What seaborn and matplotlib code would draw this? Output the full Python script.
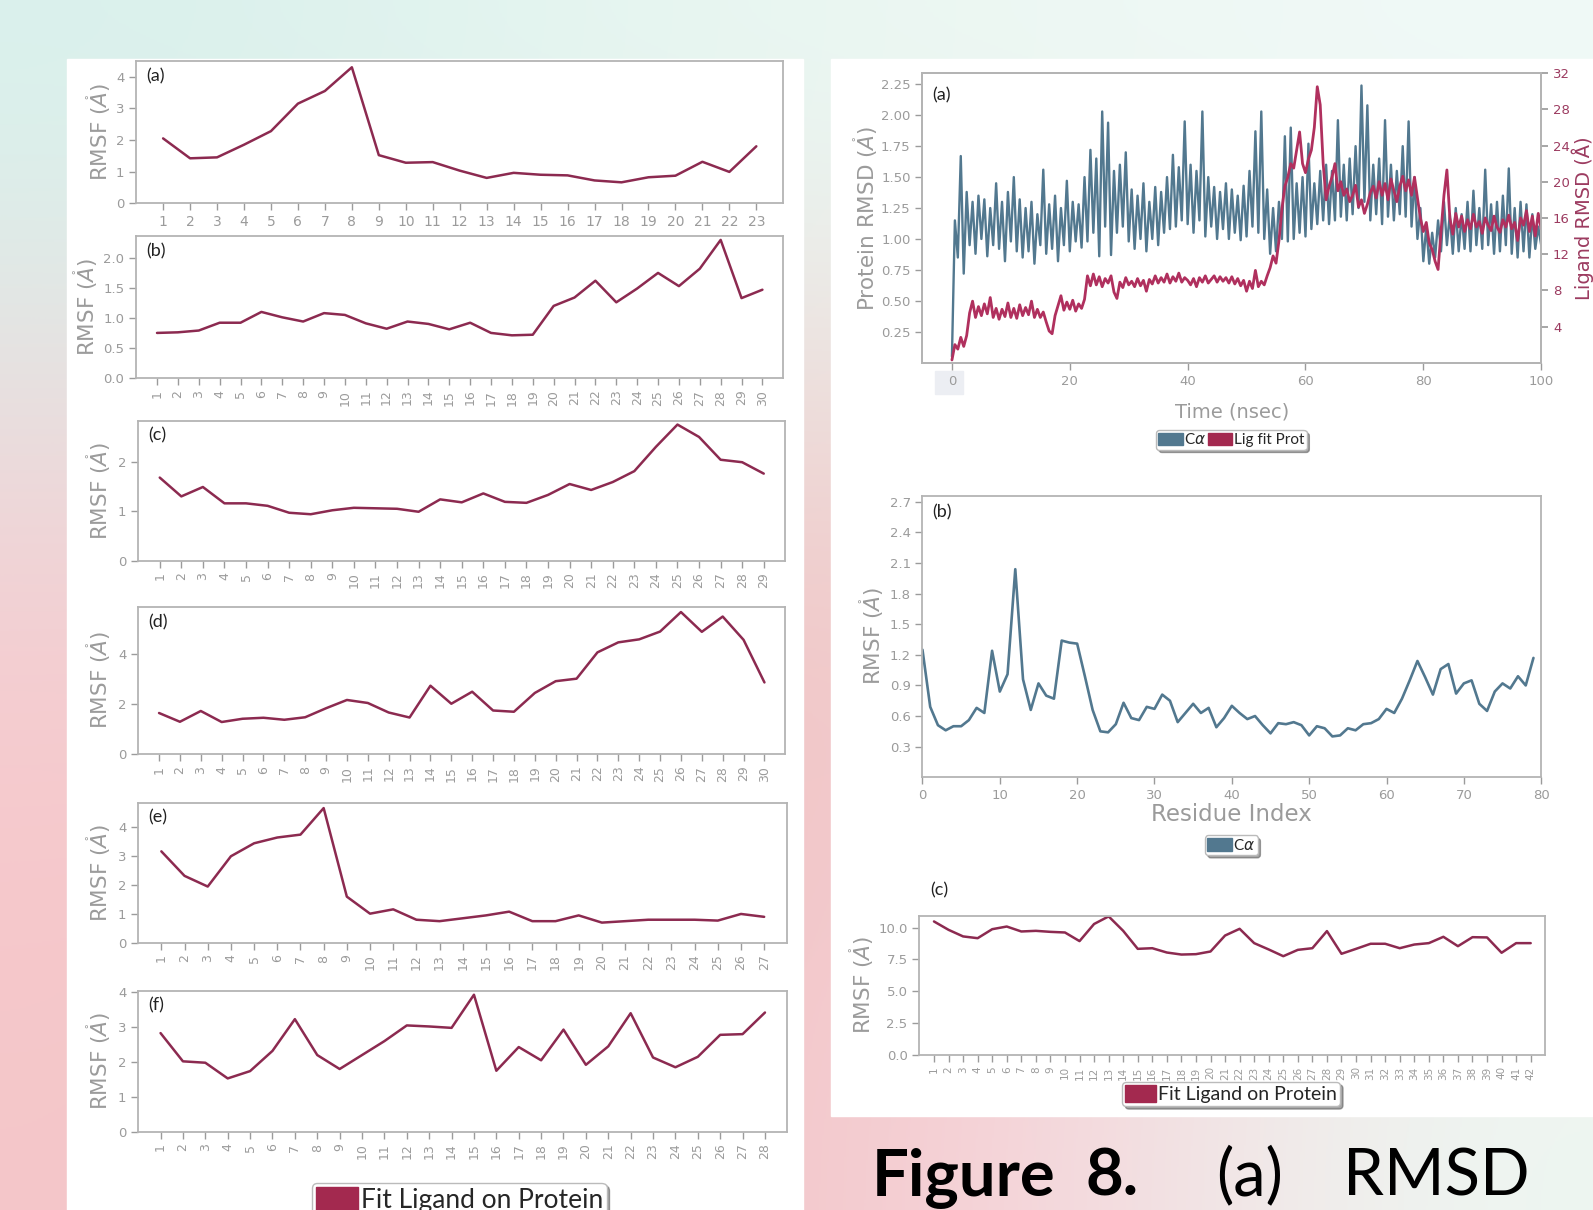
import numpy as np
import pandas as pd
import seaborn as sns
import matplotlib
matplotlib.use("Agg")
import matplotlib.pyplot as plt
from matplotlib.patches import Rectangle, Patch

# ---------------- data ----------------
rmsf_a = [2.05, 1.42, 1.45, 1.85, 2.28, 3.15, 3.55, 4.30, 1.52, 1.28, 1.30, 1.03, 0.80,
          0.96, 0.90, 0.88, 0.72, 0.66, 0.82, 0.87, 1.31, 0.99, 1.80]
rmsf_b = [0.75, 0.76, 0.79, 0.92, 0.92, 1.10, 1.01, 0.94, 1.08, 1.05, 0.91, 0.82, 0.94,
          0.90, 0.81, 0.92, 0.75, 0.71, 0.72, 1.20, 1.34, 1.62, 1.26, 1.49, 1.75, 1.53,
          1.82, 2.30, 1.33, 1.47]
rmsf_c = [1.68, 1.30, 1.49, 1.16, 1.16, 1.11, 0.97, 0.94, 1.02, 1.07, 1.06, 1.05, 0.99,
          1.24, 1.18, 1.36, 1.19, 1.17, 1.33, 1.55, 1.43, 1.59, 1.81, 2.30, 2.75, 2.50,
          2.04, 1.99, 1.76]
rmsf_d = [1.63, 1.28, 1.71, 1.27, 1.40, 1.44, 1.36, 1.46, 1.82, 2.15, 2.03, 1.65, 1.45,
          2.72, 2.00, 2.48, 1.73, 1.68, 2.43, 2.90, 3.00, 4.05, 4.45, 4.57, 4.88, 5.66,
          4.87, 5.48, 4.55, 2.85]
rmsf_e = [3.17, 2.32, 1.95, 3.00, 3.45, 3.65, 3.75, 4.67, 1.60, 1.01, 1.16, 0.80, 0.75,
          0.85, 0.95, 1.08, 0.75, 0.75, 0.95, 0.70, 0.75, 0.80, 0.80, 0.80, 0.77, 1.00, 0.90]
rmsf_f = [2.83, 2.02, 1.98, 1.53, 1.74, 2.32, 3.23, 2.20, 1.80, 2.20, 2.60, 3.05, 3.02,
          2.98, 3.93, 1.75, 2.43, 2.05, 2.93, 1.92, 2.45, 3.40, 2.13, 1.85, 2.15, 2.78,
          2.80, 3.42]

# Protein C-alpha RMSD (A), one value every 0.5 ns from 0 to 100 ns
ca_rmsd = [0.05, 1.15, 0.85, 1.67, 0.72, 1.38, 0.95, 1.30, 0.88, 1.35, 1.00, 1.32, 0.86, 1.25,
           0.95, 1.45, 0.92, 1.30, 0.82, 1.38, 0.98, 1.50, 0.90, 1.32, 0.85, 1.25, 0.90, 1.30,
           0.80, 1.20, 0.95, 1.56, 0.88, 1.28, 0.92, 1.35, 0.82, 1.25, 0.95, 1.47, 0.90, 1.30,
           0.98, 1.28, 0.93, 1.50, 0.98, 1.72, 1.05, 1.65, 0.86, 2.03, 1.10, 1.94, 0.87, 1.55,
           1.05, 1.60, 1.10, 1.70, 0.98, 1.40, 0.92, 1.35, 1.00, 1.45, 0.90, 1.30, 1.00, 1.42,
           0.95, 1.38, 1.05, 1.50, 1.08, 1.68, 1.10, 1.58, 1.15, 1.95, 1.12, 1.60, 1.05, 1.55,
           1.15, 2.03, 1.02, 1.50, 1.10, 1.42, 1.00, 1.38, 1.08, 1.45, 1.00, 1.40, 1.05, 1.35,
           0.99, 1.43, 1.02, 1.55, 1.10, 1.87, 1.05, 2.03, 1.00, 1.40, 0.88, 1.25, 0.90, 1.30,
           1.00, 1.83, 0.98, 1.90, 1.00, 1.45, 1.05, 1.50, 1.02, 1.77, 1.08, 1.45, 1.12, 1.55,
           1.15, 1.60, 1.12, 1.55, 1.15, 1.96, 1.18, 1.60, 1.15, 1.65, 1.20, 1.75, 1.25, 2.24,
           1.30, 2.08, 1.15, 1.60, 1.20, 1.65, 1.12, 1.96, 1.18, 1.60, 1.15, 1.55, 1.20, 1.75,
           1.18, 1.95, 1.10, 1.50, 1.00, 1.25, 0.82, 1.10, 0.80, 1.05, 0.85, 1.15, 0.90, 1.30,
           0.95, 1.20, 0.88, 1.25, 0.90, 1.20, 0.92, 1.30, 0.90, 1.39, 0.95, 1.25, 0.92, 1.56,
           0.95, 1.28, 0.88, 1.30, 0.90, 1.35, 0.95, 1.57, 0.88, 1.25, 0.85, 1.30, 0.90, 1.28,
           0.85, 1.20, 0.92, 1.10, 0.95]
# Ligand fit on protein RMSD (A), one value every 0.5 ns
lig_rmsd = [0.3, 2.0, 1.5, 2.8, 1.8, 3.0, 5.5, 6.8, 5.0, 6.2, 5.2, 6.5, 5.4, 7.2, 5.0, 6.0,
            4.8, 5.9, 5.1, 6.6, 5.0, 6.0, 4.9, 6.4, 5.2, 6.1, 5.3, 6.8, 5.0, 5.9, 5.0, 5.6,
            4.5, 3.5, 3.2, 5.2, 6.3, 7.4, 5.8, 6.7, 5.9, 6.9, 5.7, 6.5, 6.0, 7.0, 9.6, 8.5,
            9.8, 8.6, 9.5, 8.4, 9.3, 8.8, 9.6, 7.8, 7.1, 8.9, 8.3, 9.4, 8.6, 9.0, 8.4, 9.3,
            8.5, 9.1, 7.9, 9.2, 8.7, 9.6, 8.8, 9.4, 8.9, 9.8, 8.8, 9.5, 9.0, 9.9, 8.9, 9.4,
            9.1, 8.6, 9.3, 8.4, 9.4, 8.9, 9.6, 8.8, 9.2, 9.6, 8.9, 9.5, 9.0, 9.4, 8.8, 9.5,
            8.7, 9.3, 8.5, 9.1, 7.9, 9.0, 8.2, 10.2, 8.4, 9.0, 8.6, 9.6, 10.5, 11.8, 11.0, 13.5,
            17.0, 19.5, 20.5, 22.0, 21.5, 23.5, 25.5, 22.0, 21.0, 22.5, 23.5, 26.0, 30.5, 28.5,
            22.0, 18.0, 19.5, 20.5, 22.0, 19.0, 20.0, 18.5, 19.2, 17.8, 18.5, 19.6, 17.2, 18.0,
            16.5, 17.5, 18.8, 19.5, 18.2, 20.0, 18.5, 19.8, 18.0, 20.3, 19.0, 17.8, 19.5, 20.6,
            19.0, 20.2, 18.5, 20.5, 18.2, 16.0, 14.5, 15.5, 13.2, 12.5, 11.2, 10.3, 14.5, 18.5,
            21.3, 16.0, 14.2, 16.5, 15.0, 16.2, 14.5, 15.8, 14.8, 16.4, 15.0, 15.6, 14.3, 16.0,
            15.2, 14.6, 16.2, 15.0, 14.4, 15.8, 15.0, 16.3, 14.8, 15.5, 13.5, 16.0, 15.2, 16.8,
            14.5, 16.2, 14.0, 16.5, 14.8]

# Protein RMSF (C-alpha), residue index 0..79
ca_rmsf = [1.25, 0.69, 0.51, 0.46, 0.50, 0.50, 0.56, 0.68, 0.63, 1.24, 0.84, 1.01, 2.04, 0.96,
           0.66, 0.92, 0.80, 0.77, 1.34, 1.32, 1.31, 0.99, 0.66, 0.45, 0.44, 0.52, 0.73, 0.58,
           0.56, 0.69, 0.67, 0.81, 0.75, 0.54, 0.63, 0.72, 0.63, 0.68, 0.49, 0.58, 0.70, 0.63,
           0.57, 0.60, 0.51, 0.43, 0.53, 0.52, 0.54, 0.51, 0.41, 0.50, 0.48, 0.40, 0.41, 0.48,
           0.46, 0.52, 0.53, 0.57, 0.67, 0.63, 0.77, 0.95, 1.14, 0.98, 0.81, 1.06, 1.11, 0.82,
           0.92, 0.95, 0.72, 0.65, 0.84, 0.92, 0.87, 0.99, 0.90, 1.17]

# Ligand RMSF (fit on protein), atoms 1..42
lig_rmsf = [10.5, 9.84, 9.32, 9.18, 9.89, 10.1, 9.71, 9.76, 9.68, 9.63, 8.95, 10.3, 10.9, 9.76,
            8.34, 8.39, 8.05, 7.89, 7.92, 8.13, 9.39, 9.92, 8.79, 8.29, 7.76, 8.26, 8.39, 9.74,
            7.95, 8.34, 8.74, 8.74, 8.39, 8.68, 8.79, 9.29, 8.55, 9.26, 9.24, 8.03, 8.79, 8.79]

# ---------------- style ----------------
sns.set_theme(style="white")
plt.rcParams["font.family"] = ["DejaVu Sans"]
plt.rcParams["mathtext.fontset"] = "dejavusans"

W, H = 1568.0, 1191.0
GRAY = "#9b9b9b"
SPINE = "#b4b4b4"
MAROON = "#8c2a50"
LIGRED = "#b0305e"
LEGRED = "#a3294f"
BLUE = "#52788f"
LBLFONT = ["Lato", "DejaVu Sans"]


def px(x0, y0, x1, y1):
    return [x0 / W, 1 - y1 / H, (x1 - x0) / W, (y1 - y0) / H]


fig = plt.figure(figsize=(15.93, 12.10), dpi=100)

# background (blurred slide backdrop)
bg = fig.add_axes([0, 0, 1, 1], zorder=-10)
grid = np.array([
    [[0.85, 0.95, 0.93], [0.90, 0.97, 0.95], [0.93, 0.98, 0.96], [0.94, 0.98, 0.97]],
    [[0.97, 0.80, 0.82], [0.95, 0.78, 0.78], [0.94, 0.74, 0.74], [0.96, 0.93, 0.93]],
    [[0.96, 0.78, 0.79], [0.94, 0.76, 0.76], [0.97, 0.82, 0.85], [0.93, 0.97, 0.95]],
])
bg.imshow(grid, aspect="auto", interpolation="bicubic", extent=[0, 1, 0, 1])
bg.set_xlim(0, 1)
bg.set_ylim(0, 1)
bg.axis("off")
for (x0, y0, x1, y1) in [(66, 58, 790, 1200), (818, 58, 1568, 1098)]:
    b = px(x0, y0, x1, y1)
    bg.add_patch(Rectangle((b[0], b[1]), b[2], b[3], color="white", zorder=2))
# faint box behind the "0" tick in the RMSD panel
b = px(920, 365, 948, 388)
bg.add_patch(Rectangle((b[0], b[1]), b[2], b[3], color="#eceef3", zorder=3))


def style_axes(ax, labelsize=10):
    for s in ax.spines.values():
        s.set_color(SPINE)
        s.set_linewidth(1.3)
    ax.tick_params(axis="both", colors=GRAY, labelsize=labelsize, length=5, width=1,
                   direction="out", bottom=True, left=True)
    ax.set_facecolor("white")


# ---------------- left column ----------------
left_specs = [
    ((134, 60, 771, 200), rmsf_a, 4.50, [0, 1, 2, 3, 4], "(a)", 0, 10, 97),
    ((134, 232, 771, 372), rmsf_b, 2.37, [0.0, 0.5, 1.0, 1.5, 2.0], "(b)", 90, 9, 84),
    ((136, 414, 773, 552), rmsf_c, 2.83, [0, 1, 2], "(c)", 90, 9, 97),
    ((136, 597, 773, 742), rmsf_d, 5.88, [0, 2, 4], "(d)", 90, 9, 97),
    ((136, 790, 775, 928), rmsf_e, 4.86, [0, 1, 2, 3, 4], "(e)", 90, 9, 97),
    ((136, 975, 775, 1114), rmsf_f, 4.05, [0, 1, 2, 3, 4], "(f)", 90, 9, 97),
]
for box, vals, ytop, yt, lab, rot, xls, lblx in left_specs:
    ax = fig.add_axes(px(*box))
    df = pd.DataFrame({"res": np.arange(1, len(vals) + 1), "rmsf": vals})
    sns.lineplot(data=df, x="res", y="rmsf", ax=ax, color=MAROON, lw=1.8)
    ax.set_xlim(0, len(vals) + 1)
    ax.set_ylim(0, ytop)
    ax.set_xticks(df["res"])
    ax.set_xticklabels([str(v) for v in df["res"]], rotation=rot)
    ax.set_yticks(yt)
    if isinstance(yt[1], float):
        ax.set_yticklabels([f"{v:.1f}" for v in yt])
    style_axes(ax, 9.5)
    ax.tick_params(axis="x", labelsize=xls)
    ax.set_xlabel("")
    ax.set_ylabel(r"RMSF ($\mathring{A}$)", fontsize=15.5, color=GRAY, va="center")
    wpx = box[2] - box[0]
    ax.yaxis.set_label_coords(-(box[0] - lblx) / wpx, 0.5)
    ax.text(0.015, 0.95, lab, transform=ax.transAxes, va="top", ha="left",
            fontsize=13, family=LBLFONT, color="#222222")

fig.legend(handles=[Patch(color=LEGRED, label="Fit Ligand on Protein")],
           loc="center", bbox_to_anchor=(452 / W, 1 - 1181 / H),
           prop={"family": LBLFONT, "size": 19}, frameon=True, shadow=True, fancybox=True,
           handlelength=1.6, handleheight=1.0, handletextpad=0.1, borderpad=0.15,
           edgecolor="#bbbbbb")

# ---------------- right column ----------------
# (a) RMSD time series
axr = fig.add_axes(px(908, 72, 1517, 357))
t_ca = np.linspace(0, 100, len(ca_rmsd))
t_lig = np.linspace(0, 100, len(lig_rmsd))
sns.lineplot(x=t_ca, y=ca_rmsd, ax=axr, color=BLUE, lw=1.7)
axr.set_xlim(-5, 100)
axr.set_ylim(0, 2.34)
axr.set_xticks([0, 20, 40, 60, 80, 100])
axr.set_yticks([0.25, 0.5, 0.75, 1.0, 1.25, 1.5, 1.75, 2.0, 2.25])
axr.set_yticklabels([f"{v:.2f}" for v in axr.get_yticks()])
style_axes(axr, 9.5)
axr.set_xlabel("Time (nsec)", fontsize=14, color=GRAY, va="center")
axr.xaxis.set_label_coords(0.5, -(406 - 357) / 285.0)
axr.set_ylabel(r"Protein RMSD ($\mathring{A}$)", fontsize=15.5, color=GRAY, va="center")
axr.yaxis.set_label_coords(-(908 - 852) / 609.0, 0.5)
axr.text(0.015, 0.95, "(a)", transform=axr.transAxes, va="top", ha="left",
         fontsize=13, family=LBLFONT, color="#222222")

axr2 = axr.twinx()
sns.lineplot(x=t_lig, y=lig_rmsd, ax=axr2, color=LIGRED, lw=2.0)
axr2.set_ylim(0, 32)
axr2.set_yticks([4, 8, 12, 16, 20, 24, 28, 32])
for s in axr2.spines.values():
    s.set_color(SPINE)
    s.set_linewidth(1.3)
axr2.tick_params(axis="y", colors=GRAY, labelcolor="#9c3b60", labelsize=9.5, length=5,
                 direction="out", right=True)
axr2.set_ylabel("Ligand RMSD (Å)", fontsize=14, color="#9c3b60", va="center",
                rotation=90)
axr2.yaxis.set_label_coords(1 + (1558 - 1517) / 609.0, 0.5)

fig.legend(handles=[Patch(color=BLUE, label=r"C$\alpha$"),
                    Patch(color=LEGRED, label="Lig fit Prot")],
           loc="center", bbox_to_anchor=(1212 / W, 1 - 433 / H), ncol=2,
           prop={"family": LBLFONT, "size": 11}, frameon=True, shadow=True, fancybox=True,
           handlelength=1.6, handleheight=0.9, handletextpad=0.1, columnspacing=0.1,
           borderpad=0.15, edgecolor="#bbbbbb")

# (b) protein RMSF
axb = fig.add_axes(px(908, 488, 1517, 765))
dfb = pd.DataFrame({"idx": np.arange(len(ca_rmsf)), "rmsf": ca_rmsf})
sns.lineplot(data=dfb, x="idx", y="rmsf", ax=axb, color=BLUE, lw=1.9)
axb.set_xlim(0, 80)
axb.set_ylim(0, 2.76)
axb.set_xticks([0, 10, 20, 30, 40, 50, 60, 70, 80])
yb = [0.3, 0.6, 0.9, 1.2, 1.5, 1.8, 2.1, 2.4, 2.7]
axb.set_yticks(yb)
axb.set_yticklabels([f"{v:.1f}" for v in yb])
style_axes(axb, 9.5)
axb.set_xlabel("Residue Index", fontsize=16.5, color=GRAY, va="center")
axb.xaxis.set_label_coords(0.5, -(802 - 765) / 277.0)
axb.set_ylabel(r"RMSF ($\mathring{A}$)", fontsize=15.5, color=GRAY, va="center")
axb.yaxis.set_label_coords(-(908 - 858) / 609.0, 0.5)
axb.text(0.015, 0.97, "(b)", transform=axb.transAxes, va="top", ha="left",
         fontsize=13, family=LBLFONT, color="#222222")

fig.legend(handles=[Patch(color=BLUE, label=r"C$\alpha$")],
           loc="center", bbox_to_anchor=(1212 / W, 1 - 832 / H),
           prop={"family": LBLFONT, "size": 11}, frameon=True, shadow=True, fancybox=True,
           handlelength=1.6, handleheight=0.9, handletextpad=0.1,
           borderpad=0.15, edgecolor="#bbbbbb")

# (c) ligand RMSF
axc = fig.add_axes(px(905, 902, 1521, 1038))
dfc = pd.DataFrame({"atom": np.arange(1, len(lig_rmsf) + 1), "rmsf": lig_rmsf})
sns.lineplot(data=dfc, x="atom", y="rmsf", ax=axc, color=MAROON, lw=1.8)
axc.set_xlim(0, len(lig_rmsf) + 1)
axc.set_ylim(0, 10.9)
axc.set_xticks(dfc["atom"])
axc.set_xticklabels([str(v) for v in dfc["atom"]], rotation=90)
yc = [0.0, 2.5, 5.0, 7.5, 10.0]
axc.set_yticks(yc)
axc.set_yticklabels([f"{v:.1f}" for v in yc])
style_axes(axc, 9.5)
axc.tick_params(axis="x", labelsize=7.5)
axc.set_xlabel("")
axc.set_ylabel(r"RMSF ($\mathring{A}$)", fontsize=15.5, color=GRAY, va="center")
axc.yaxis.set_label_coords(-(905 - 848) / 616.0, 0.5)
fig.text(916 / W, 1 - 876 / H, "(c)", fontsize=13, family=LBLFONT, color="#222222",
         va="center", ha="left")

fig.legend(handles=[Patch(color=LEGRED, label="Fit Ligand on Protein")],
           loc="center", bbox_to_anchor=(1212 / W, 1 - 1077 / H),
           prop={"family": LBLFONT, "size": 14}, frameon=True, shadow=True, fancybox=True,
           handlelength=1.6, handleheight=1.0, handletextpad=0.1,
           borderpad=0.15, edgecolor="#bbbbbb")

# ---------------- caption fragment ----------------
for xpos, txt, wt in [(858, "Figure", "bold"), (1068, "8.", "bold"),
                      (1197, "(a)", "normal"), (1322, "RMSD", "normal")]:
    fig.text(xpos / W, 1 - 1177 / H, txt, fontsize=47, fontweight=wt, family=LBLFONT,
             color="black", va="baseline", ha="left")

fig.savefig("out.png", dpi=100)
